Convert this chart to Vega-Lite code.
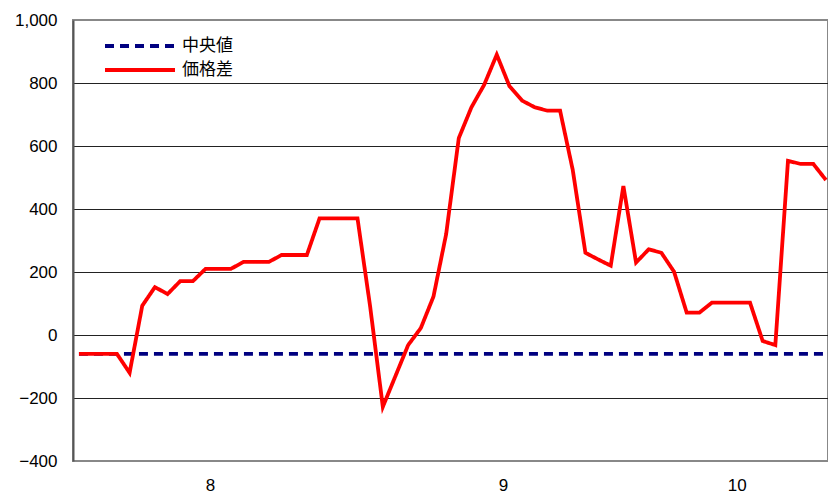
{
  "$schema": "https://vega.github.io/schema/vega-lite/v6.json",
  "width": 755,
  "height": 441,
  "autosize": {"type": "none"},
  "padding": {"left": 73, "top": 20, "right": 0, "bottom": 34},
  "background": "white",
  "config": {
    "view": {"stroke": "#888888", "strokeWidth": 2},
    "font": "Liberation Sans"
  },
  "data": {
    "values": [
      {"t": 0, "median": -60, "diff": -60},
      {"t": 1, "median": -60, "diff": -60},
      {"t": 2, "median": -60, "diff": -60},
      {"t": 3, "median": -60, "diff": -60},
      {"t": 4, "median": -60, "diff": -120},
      {"t": 5, "median": -60, "diff": 93},
      {"t": 6, "median": -60, "diff": 152},
      {"t": 7, "median": -60, "diff": 130},
      {"t": 8, "median": -60, "diff": 171},
      {"t": 9, "median": -60, "diff": 171},
      {"t": 10, "median": -60, "diff": 210},
      {"t": 11, "median": -60, "diff": 210},
      {"t": 12, "median": -60, "diff": 210},
      {"t": 13, "median": -60, "diff": 232},
      {"t": 14, "median": -60, "diff": 232},
      {"t": 15, "median": -60, "diff": 232},
      {"t": 16, "median": -60, "diff": 254},
      {"t": 17, "median": -60, "diff": 254},
      {"t": 18, "median": -60, "diff": 254},
      {"t": 19, "median": -60, "diff": 370},
      {"t": 20, "median": -60, "diff": 370},
      {"t": 21, "median": -60, "diff": 370},
      {"t": 22, "median": -60, "diff": 370},
      {"t": 23, "median": -60, "diff": 90},
      {"t": 24, "median": -60, "diff": -228},
      {"t": 25, "median": -60, "diff": -130},
      {"t": 26, "median": -60, "diff": -32},
      {"t": 27, "median": -60, "diff": 22},
      {"t": 28, "median": -60, "diff": 122},
      {"t": 29, "median": -60, "diff": 320},
      {"t": 30, "median": -60, "diff": 625},
      {"t": 31, "median": -60, "diff": 723},
      {"t": 32, "median": -60, "diff": 794},
      {"t": 33, "median": -60, "diff": 890},
      {"t": 34, "median": -60, "diff": 790},
      {"t": 35, "median": -60, "diff": 744},
      {"t": 36, "median": -60, "diff": 723},
      {"t": 37, "median": -60, "diff": 712},
      {"t": 38, "median": -60, "diff": 712},
      {"t": 39, "median": -60, "diff": 524},
      {"t": 40, "median": -60, "diff": 261},
      {"t": 41, "median": -60, "diff": 240},
      {"t": 42, "median": -60, "diff": 220},
      {"t": 43, "median": -60, "diff": 473},
      {"t": 44, "median": -60, "diff": 230},
      {"t": 45, "median": -60, "diff": 272},
      {"t": 46, "median": -60, "diff": 261},
      {"t": 47, "median": -60, "diff": 201},
      {"t": 48, "median": -60, "diff": 71},
      {"t": 49, "median": -60, "diff": 71},
      {"t": 50, "median": -60, "diff": 103},
      {"t": 51, "median": -60, "diff": 103},
      {"t": 52, "median": -60, "diff": 103},
      {"t": 53, "median": -60, "diff": 103},
      {"t": 54, "median": -60, "diff": -19},
      {"t": 55, "median": -60, "diff": -32},
      {"t": 56, "median": -60, "diff": 553},
      {"t": 57, "median": -60, "diff": 543},
      {"t": 58, "median": -60, "diff": 543},
      {"t": 59, "median": -60, "diff": 492}
    ]
  },
  "transform": [
    {"fold": ["median", "diff"], "as": ["series", "value"]}
  ],
  "mark": {"type": "line", "strokeWidth": 3.8, "strokeCap": "butt", "strokeJoin": "miter"},
  "encoding": {
    "x": {
      "field": "t",
      "type": "quantitative",
      "scale": {"domain": [-0.47, 59.16], "nice": false, "zero": false},
      "axis": {
        "title": null,
        "values": [10.35, 33.5, 51.95],
        "labelExpr": "datum.value < 20 ? '8' : datum.value < 40 ? '9' : '10'",
        "grid": false,
        "ticks": false,
        "domain": false,
        "labelFontSize": 17,
        "labelColor": "#000000",
        "labelPadding": 16,
        "labelFont": "Liberation Sans"
      }
    },
    "y": {
      "field": "value",
      "type": "quantitative",
      "scale": {"domain": [-400, 1000], "nice": false, "zero": false},
      "axis": {
        "title": null,
        "values": [-400, -200, 0, 200, 400, 600, 800, 1000],
        "format": ",.0f",
        "grid": true,
        "gridColor": {"condition": {"test": "datum.value == 1000 || datum.value == -400", "value": "#888888"}, "value": "#222222"},
        "gridWidth": 1,
        "ticks": false,
        "domain": true,
        "domainColor": "#555555",
        "domainWidth": 2,
        "labelFontSize": 17,
        "labelColor": "#000000",
        "labelPadding": 16,
        "labelFont": "Liberation Sans"
      }
    },
    "color": {
      "field": "series",
      "type": "nominal",
      "sort": ["median", "diff"],
      "scale": {"domain": ["median", "diff"], "range": ["#000080", "#ff0000"]},
      "legend": {
        "title": null,
        "orient": "none",
        "legendX": 55,
        "legendY": 14,
        "rowPadding": 4,
        "symbolType": "M-3.5,0H3.5",
        "symbolSize": 400,
        "symbolStrokeWidth": 3.8,
        "labelFont": "Noto Sans CJK JP",
        "labelFontSize": 17,
        "labelColor": "#000000",
        "labelOffset": 30,
        "padding": 0,
        "labelExpr": "datum.label == 'median' ? '中央値' : '価格差'"
      }
    },
    "strokeDash": {
      "field": "series",
      "type": "nominal",
      "sort": ["median", "diff"],
      "scale": {"domain": ["median", "diff"], "range": [[9, 6], [1, 0]]},
      "legend": {
        "title": null,
        "orient": "none",
        "legendX": 55,
        "legendY": 14,
        "rowPadding": 4,
        "symbolType": "M-3.5,0H3.5",
        "symbolSize": 400,
        "symbolStrokeWidth": 3.8,
        "labelFont": "Noto Sans CJK JP",
        "labelFontSize": 17,
        "labelColor": "#000000",
        "labelOffset": 30,
        "padding": 0,
        "labelExpr": "datum.label == 'median' ? '中央値' : '価格差'"
      }
    }
  }
}
